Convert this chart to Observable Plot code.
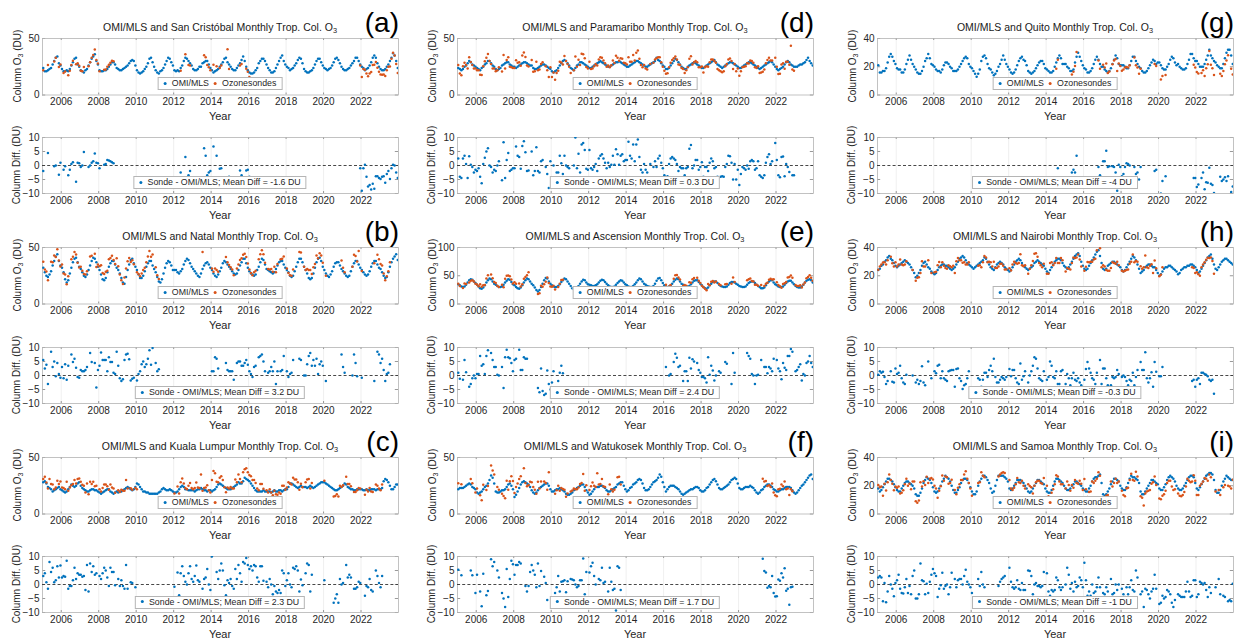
<!DOCTYPE html>
<html><head><meta charset="utf-8">
<script src="https://cdn.jsdelivr.net/npm/d3@7"></script>
<script src="https://cdn.jsdelivr.net/npm/@observablehq/plot@0.6"></script>
<style>
body{margin:0;background:#fff;}
#fig{position:relative;width:1244px;height:642px;overflow:hidden;font-family:"Liberation Sans",Arial,sans-serif;color:#262626;}
.t{position:absolute;white-space:nowrap;transform:translate(-50%,-50%);}
.title{font-size:10.5px;color:#1a1a1a;}
.title sub,.yl sub{font-size:70%;vertical-align:-2px;line-height:0;}
.letter{position:absolute;font-size:28px;color:#000;transform:translate(-100%,-50%);white-space:nowrap;}
.yl{font-size:10px;transform:translate(-50%,-50%) rotate(-90deg);}
.xl{font-size:11px;}
.leg{position:absolute;background:#fff;border:1px solid #b5b5b5;font-size:8.8px;height:11px;line-height:11px;padding:0 5px 0 5px;white-space:nowrap;transform:translateX(-50%);}
.dot{display:inline-block;width:3.2px;height:3.2px;border-radius:50%;margin:0 5px 1px 0;vertical-align:middle;}
</style></head><body><div id="fig"></div>
<script>
// ---------- data (monthly, Jan 2005 .. Dec 2023; one row per year; "_" = no sonde) ----------
const stations = ["San Cristóbal","Natal","Kuala Lumpur","Paramaribo","Ascension","Watukosek","Quito","Nairobi","Samoa"];
const letters = ["a","b","c","d","e","f","g","h","i"];
const meanDiffs = ["-1.6","3.2","2.3","0.3","2.4","1.7","-4","-0.3","-1"];
const yMaxTop = [50,50,50,50,100,50,40,40,40];
const yTicksTop = [[0,50],[0,50],[0,50],[0,50],[0,50,100],[0,50],[0,20,40],[0,20,40],[0,20,40]];
const yTicksDiff = [-10,-5,0,5,10];
const xTicks = [2006,2008,2010,2012,2014,2016,2018,2020,2022];
const firstYear = 2005;

const omiSanCristobal = `
24 21 21 22 23 24 27 30 33 34 28 26|23 21 21 22 21 23 26 29 32 33 27 25|22 21 20 22 23 26 29 32 34 36 30 27
22 21 21 22 22 23 25 27 29 29 27 24|23 22 22 23 24 25 26 28 30 31 30 26|22 20 19 20 21 23 25 28 32 33 29 25
22 20 19 21 22 24 27 30 33 32 29 26|22 21 22 21 24 26 30 33 32 30 28 26|23 22 22 23 25 25 28 29 30 30 27 24
22 20 21 22 23 25 27 29 32 33 29 27|25 23 22 22 24 26 28 31 34 30 25 22|20 19 19 20 22 24 28 30 32 32 30 27
24 22 20 20 21 24 27 30 33 35 30 27|25 24 22 23 24 26 28 31 33 32 28 23|21 20 20 21 22 24 27 30 32 32 29 26
24 23 22 23 24 26 29 32 33 31 28 25|23 22 22 23 24 26 28 30 33 33 30 27|25 24 22 23 24 26 29 33 35 33 28 25
23 22 22 23 25 27 30 33 37 35 30 24`;
const diffSanCristobal = `
-2 _ _ 4.5 _ _ _ -0.3 0 _ -3.3 1|_ -1.5 -0.3 _ -3.5 -1.5 0.5 1.2 _ -5.8 1 0.8|-0.5 0 4.8 _ _ -0.5 0 1 1.5 4.3 1 0.8
-1 _ _ 0.3 0.5 2 1.8 1.5 1.2 0.8 _ _|_ _ _ _ _ _ _ _ _ _ _ _|_ _ _ _ _ _ _ _ _ _ _ _
_ _ _ _ _ _ _ _ _ _ _ _|_ _ _ _ -2.5 _ _ 3 _ -3.5 -2 _|_ _ _ _ _ _ _ 6.2 3.5 -3.5 -2.5 -2
_ 6.8 _ 3.5 _ -1.2 -1 _ _ _ 11.5 -4|_ _ _ _ _ _ -1.8 -3.5 _ _ -1.8 -1.5|-4 _ _ _ _ _ _ _ _ _ _ _
_ _ _ _ _ _ _ _ _ _ _ _|_ _ _ _ _ _ _ _ _ _ _ _|_ _ _ _ _ _ _ _ _ _ _ _
_ _ _ _ _ _ _ _ _ _ _ _|_ _ _ _ _ _ _ _ _ _ _ -1|-9 -1 0.3 -4 -7.5 -7 -8.6 -6.5 -8.3 -3.8 -3.8 -4.5
-4.8 -4 -3.8 -6.2 -3 -2 -4.8 -1 0.3 0 -2.5 -4.5`;

const omiNatal = `
32 28 25 24 26 29 34 38 42 44 38 34|32 28 22 19 21 27 32 37 40 41 37 33|31 28 25 24 26 30 34 38 41 40 37 33
30 26 22 21 23 28 33 36 38 38 35 32|30 27 23 19 18 24 30 35 39 40 36 33|30 26 23 23 25 29 33 36 38 38 34 31
28 24 20 19 22 27 32 36 38 37 34 30|30 30 28 27 29 31 35 38 40 39 36 33|31 29 27 25 24 27 31 34 36 37 35 32
30 27 25 24 26 29 32 36 38 37 35 33|31 29 27 26 27 30 34 37 40 40 36 32|29 27 26 25 26 30 33 37 40 39 35 31
30 29 28 27 28 31 34 37 38 38 35 32|30 28 25 24 25 29 33 37 40 40 37 33|30 27 23 22 23 27 32 37 40 41 38 33
30 27 25 24 26 29 33 36 37 37 34 31|29 27 25 24 25 29 33 36 38 38 35 32|30 28 26 25 26 29 33 36 38 38 35 32
31 28 25 23 24 28 33 37 40 42 44 39`;
const diffNatal = `
5.5 2.5 3.8 -3 _ 8.5 3 5 -0.3 4.5 0.5 -0.8|3 -1 4 -1.5 3.5 _ 7.5 4.8 6 2.8 -0.5 -0.8|2 1.5 1.5 2 3 _ 8 4.8 _ 4.5 -4.3 2
3.5 8.2 5.5 5.5 5.5 1.5 6.5 4.8 4.8 1 0.5 8.5|3.5 -1 -2 -1.3 5.5 7.5 7.8 5.8 -1.8 -1.2 -0.8 _|-1.8 0.5 1.5 4 5 3 4 6 9 3.8 9.8 _
4.5 1.5 2.2 _ _ _ _ _ _ _ _ _|_ _ _ _ _ _ _ _ _ _ _ _|_ _ _ _ _ _ 15 _ _ _ _ _
1.5 1.5 6.5 6 2.5 _ _ _ _ 4.5 2 1.5|1.5 1.5 -1.5 _ 4.5 5 5 3.5 3.5 4.5 5.5 3.8|1.5 0.5 -0.5 3 3.5 _ 6.5 7 7.5 5 1.5 _
1 1.5 3 1.5 5 -3 1.5 _ 1.5 2 7 _|1.5 -0.5 0.5 1 5.5 _ _ _ 6 5.5 _ 0|0 4 7 8 3.5 5.5 3.5 6 0.5 4 5 3.5
_ -2 _ _ _ _ _ _ _ _ _ 7.5|3 1 _ _ _ _ 0 7.5 4.5 -0.3 12 _|-0.8 _ _ _ _ _ _ _ -2 _ 8.5 7.5
4.5 6 2 -2 0.5 1 4 _ _ _ _ _`;

const omiKualaLumpur = `
28 29 27 24 23 22 20 21 22 23 24 22|21 20 19 20 22 24 26 25 24 25 27 28|25 23 22 21 20 20 21 22 22 21 21 20
19 18 19 20 21 22 22 20 19 18 19 20|19 20 20 21 22 23 24 23 22 21 22 24|27 26 24 22 20 20 19 19 18 18 18 18
18 18 19 20 22 23 22 21 21 22 21 20|19 19 20 22 24 25 24 22 22 21 21 21|21 20 21 22 22 23 22 21 21 20 21 21
20 21 22 24 26 27 26 25 24 23 22 22|22 23 24 25 26 28 27 27 29 32 31 30|29 27 25 23 21 20 20 20 20 21 20 20
20 20 19 20 21 20 20 21 21 20 21 22|22 24 27 27 26 25 24 23 24 25 24 24|24 23 24 25 24 23 24 25 26 27 28 28
28 27 26 25 24 23 22 21 21 22 23 24|25 27 26 24 23 22 22 21 21 22 22 22|22 21 21 22 21 21 22 22 22 21 22 22
22 23 29 31 30 28 25 22 22 24 26 26`;
const diffKualaLumpur = `
3 4 0.8 -1.5 8 4.5 6 0.8 1.5 6.5 2.5 6.8|2.5 3 2.8 8.5 -1.5 -0.5 -0.5 1.5 6 2 4 3.5|3.5 2.8 3 -2 7 -2.5 7.5 4.5 6.5 3.5 4 _
3 2 4 6 5 2.5 -0.5 6 4.5 4.5 -0.3 _|2 -0.5 1.5 -0.5 -1.5 7 -1.5 _ 0.8 0.5 _ -1|-5 _ _ _ _ _ _ _ _ _ _ _
_ _ _ _ _ _ _ _ _ _ _ _|-0.8 _ 4.3 -3.8 4 6.5 3 1 0 4 6.5 2|1 3 6.8 1.5 1 12 -1.5 2 2.5 5.5 0 -2
10 17 14 4.5 2 5 7.5 5 -0.3 -3.8 1.5 0.5|2 -0.5 -1.5 5.5 2 7 4 1 8 7.5 9.5 7|5.5 6.5 5 7 6.5 2.5 1 6.5 6.5 1.3 _ 1
-1 2 0 -3.5 -0.5 -2.5 -3 -2 -3 5 4 -0.5|1.5 4 0 -1 6 5.5 6.5 5 -2.5 1.8 -0.3 _|4 7.5 7 -2.5 3.5 _ _ _ _ _ _ _
1.5 _ _ _ _ _ -6.5 -5 -3.5 -6.5 2 0|0.5 _ 7 2.5 3.5 2.5 _ -1.5 -1.5 -1 1 0.5|_ _ -4 -0.5 -1 2 -2 -2.5 _ 5 3 0.5
-1 3 _ _ _ _ _ _ _ _ _ _`;

const omiParamaribo = `
24 23 22 23 25 26 28 30 29 27 26 25|24 23 22 24 25 27 28 30 30 28 26 25|23 22 23 24 26 27 28 29 29 27 26 25
25 24 25 26 27 28 29 29 28 27 26 26|24 23 23 24 25 26 27 27 26 25 24 23|21 20 21 22 24 26 28 30 31 30 28 26
24 23 22 24 26 27 29 29 28 27 26 25|24 24 25 26 27 28 29 30 29 28 27 26|25 25 26 27 28 29 29 30 29 28 27 26
25 25 26 27 28 29 30 30 29 28 27 26|25 25 26 27 28 29 30 33 31 30 28 26|25 23 23 24 26 28 30 32 31 29 27 25
24 23 23 25 26 27 28 29 28 27 26 25|24 24 25 26 27 28 29 30 31 29 27 26|25 24 25 26 27 28 29 29 28 27 26 25
24 24 25 26 27 28 29 29 28 27 26 25|24 23 24 25 26 27 28 29 30 29 27 25|23 22 23 24 25 27 29 30 29 27 26 25
25 25 26 27 27 28 29 31 33 30 28 26`;
const diffParamaribo = `
2.5 -4 -4.5 2.5 3.5 0.5 -4.5 3.3 0.3 -0.5 -2.5 -1.5|-2 -1 -4 -6.3 0.5 2.8 5 6.2 0 -0.5 -2.5 -1.5|-2 0 1.5 _ -5.3 8.3 -4.5 2 4.5 -2 -1.5 -1
-1 6.8 3.5 3 -1.2 7 8.7 4.7 -2 -1.8 _ 5|-3.5 -2 6.5 -2 -2.5 1.5 2 _ -0.5 -3 -8 1.5|-5 0 -7.5 -2.5 -2.5 3.5 0.8 -3 3.5 0 -0.5 -1
-4.5 _ 0 10 -1 4.2 -2.5 7.5 8 5.5 -1.2 -1.5|5.5 -1 -1.5 -0.5 0.5 -2 2.5 3.5 4 2.5 1 -1|1 -0.5 0.3 3.5 0.3 5.8 4 0.3 3.5 4 1.5 2
2 8.5 3.5 2.5 7.5 1.5 7.5 9.3 3 -1.5 -2.5 0.5|-1.5 -2.5 _ 0.5 _ -0.5 1.5 -0.5 2.5 3.5 1 -1|-3.5 -4.2 -3.8 0.5 2.5 3 2.5 2 0.5 -2 -0.5 -1
-1 -3.5 -1 -0.5 6 7.3 -1 0 2 2 -1.5 -0.5|1.2 -4 -0.5 -0.5 -2 1 2.5 1.5 -1 -0.5 -4 -4.2|-4 -3.8 -4 -0.5 0.5 3.5 3.3 1 -5 0.5 -5 -1.5
-7 -3 -0.5 -1 -1.5 0 -1.2 1.5 2 1.5 -1.5 -1|1.5 -3.5 -4 -4.5 -3.5 1 3 4 0.5 1.5 _ 8|2 -3.5 -4.2 3 3.2 -3.8 0.5 -0.5 -2.3 16.5 -3.5 -3.5
_ _ _ _ _ _ _ _ _ _ _ _`;

const omiAscension = `
35 33 31 30 31 34 38 42 44 43 40 37|34 31 28 27 29 33 38 42 45 44 40 36|34 32 30 30 31 34 38 41 44 43 39 35
33 30 28 27 29 33 38 42 45 44 40 36|33 29 25 22 25 30 36 42 46 45 40 36|33 31 30 30 32 35 39 42 45 44 40 36
32 28 26 26 28 32 36 40 43 42 38 35|34 33 32 32 33 35 38 41 43 42 39 36|33 31 30 30 31 34 37 40 42 41 38 35
33 31 30 30 32 35 38 42 45 44 40 36|34 32 31 30 30 32 36 41 45 46 42 37|33 31 30 31 33 36 40 43 45 44 40 36
34 32 31 31 32 35 38 41 42 42 39 36|33 30 28 27 29 33 36 39 40 40 37 34|32 31 30 30 31 34 37 39 39 38 36 34
32 31 30 30 31 34 37 39 40 40 37 34|32 30 28 28 29 33 37 40 42 42 38 35|33 31 30 30 31 34 37 40 41 41 38 35
32 30 29 29 31 34 38 41 43 44 42 38`;
const diffAscension = `
1 -1.2 _ -1.5 5.5 1.2 _ -4 -3 -1 0 -1|0.5 0.5 7 3.5 4 0.5 7 9 _ 8 5.5 3|3 0.3 0 _ 3 -4.5 6.5 9.2 6.5 6.2 4.5 1.5
5.5 6 _ 9.2 2 2 6.5 6 6 12 _ _|_ _ _ -4.5 -6 2.5 -5.5 -7 -6.5 1.8 -3 -5|-2.5 1.5 -4.5 _ -2 1 3.5 0.8 _ _ _ _
_ _ _ _ _ _ _ _ _ _ _ _|_ _ _ _ _ _ _ _ _ _ _ _|_ _ _ _ _ _ _ _ _ _ _ _
_ _ _ _ _ _ _ _ _ _ _ _|_ _ _ _ _ _ _ _ _ _ _ _|_ 3 _ 0 0.5 _ 4.8 7.8 6.3 3 3.5 _
-2 1.5 1.5 -2 6.3 2.5 5.8 5 _ 4.5 2 1|-0.5 -0.5 -1 -2.5 6.5 0.3 3.5 1.8 -1.8 0 _ 1.5|1 _ _ 4.8 4.2 _ _ -3 8 1 _ _
_ _ _ _ _ 8 7 6 0.5 0 -3 0|0.3 _ 5.5 _ 3 3 0.8 3 2.5 1.5 6 _|5.5 2.5 1.5 -1.3 4.5 2.8 2 7 7 9.5 8.5 _
1.5 2 3 4 -1.8 0.5 0 4.5 5 7 4.5 3`;

const omiWatukosek = `
22 23 23 23 24 25 26 27 26 24 23 22|19 18 19 20 22 24 25 27 30 34 32 27|20 19 19 20 21 21 22 24 26 27 25 22
15 17 20 23 26 28 29 28 27 26 24 21|19 18 19 21 23 24 25 26 27 27 25 22|20 20 21 22 22 23 22 21 20 18 17 17
18 19 21 22 23 24 25 26 26 24 21 19|17 18 20 22 24 24 24 25 25 24 23 21|20 20 21 22 23 24 26 27 28 28 25 22
20 21 23 24 26 27 28 30 31 30 27 23|21 21 22 24 26 28 29 30 32 35 33 28|24 20 22 24 25 25 25 24 23 22 20 18
17 18 19 20 21 22 22 23 24 24 23 21|20 20 21 23 24 26 28 30 31 29 26 23|22 22 23 24 25 26 28 30 31 32 31 27
23 22 22 23 24 24 24 25 24 23 21 19|18 19 21 22 24 25 26 26 25 24 22 21|20 20 21 22 22 23 24 24 24 23 21 19
18 19 21 23 25 26 28 30 32 34 35 31`;
const diffWatukosek = `
5.3 _ 3.3 _ _ _ _ _ 5 3.3 _ -3|3.5 _ -2.5 -7.8 3.8 _ -3.8 -2.3 _ 9 6.5 8|_ 5 2.5 _ -3 -5 -8 5.5 -4.5 2 8.5 7.2
3.5 7 7 8 7.5 _ 11.5 -0.5 -2.5 -0.5 4.5 7|5 3.5 -1 7.5 -0.5 4.8 _ 2.8 0.5 -5.5 12 _|_ _ -3 -1 3 -2.5 1 1.2 1.5 -2.8 1.2 _
2 1.8 1.5 0 -1 -0.5 1.5 1.5 9.3 -3.5 4.5 _|4.3 6.5 7.8 3 0 12 2 1.5 6 0.5 1 _|-2.5 6 1 -2 -1.5 -9.3 6.5 6 -2 _ _ _
_ _ _ _ _ _ _ _ _ _ _ _|_ _ _ _ _ _ _ _ _ _ _ _|_ _ _ _ _ _ _ _ _ _ _ _
_ _ _ _ _ _ _ _ _ _ _ _|_ _ _ _ _ _ _ _ _ _ _ _|_ _ _ _ _ _ _ _ _ _ _ _
_ _ _ _ _ _ _ _ _ _ _ _|_ _ _ 9.2 4.8 4.3 -1.2 -0.5 -1 3 -3 -4.3|-4.2 1.8 1.3 4 2.5 5.8 -2.2 -1.5 -7.2 -1 -0.8 _
_ _ _ _ _ _ _ _ _ _ _ _`;

const omiQuito = `
21 16 16 17 17 19 23 27 29 27 24 22|19 18 18 16 16 18 22 25 28 25 22 20|18 16 15 15 17 20 24 26 29 26 22 21
20 18 17 17 16 18 21 23 23 22 20 19|17 17 17 18 20 22 24 26 27 26 22 20|19 17 15 13 15 18 24 27 28 26 22 19
18 16 14 15 17 20 22 25 28 25 22 20|18 16 15 16 18 21 24 26 27 25 24 21|17 16 15 16 17 19 21 23 24 24 22 19
18 17 16 16 17 20 23 26 28 26 22 22|22 20 19 17 17 18 23 27 30 27 24 21|19 18 16 16 17 19 22 25 27 25 22 20
20 18 17 16 17 19 22 25 28 26 22 21|21 21 20 19 19 21 24 27 27 24 22 20|19 17 16 16 17 19 21 23 25 24 22 23
23 21 19 18 18 20 22 25 27 26 23 21|22 20 19 18 18 19 22 25 29 29 26 24|24 22 20 20 20 22 25 28 32 28 26 24
23 21 20 19 19 22 26 30 32 32 28 22`;
const diffQuito = `
_ _ _ _ _ _ _ _ _ _ _ _|_ _ _ _ _ _ _ _ _ _ _ _|_ _ _ _ _ _ _ _ _ _ _ _
_ _ _ _ _ _ _ _ _ _ _ _|_ _ _ _ _ _ _ _ _ _ _ _|_ _ _ _ _ _ _ _ _ _ _ _
_ _ _ _ _ _ _ _ _ _ _ _|_ _ _ _ _ _ _ _ _ _ _ _|_ _ _ _ _ _ _ _ _ _ _ _
_ _ _ _ _ _ -4.5 -1 _ _ _ _|_ _ _ _ -2.5 -1.5 -2.5 3.5 _ _ _ _|_ _ _ _ _ _ _ _ _ -0.5 -3.5 _
1.5 1.5 5.3 -0.5 -0.3 _ -0.3 -0.5 -2.5 -9 0.3 -0.5|-3.8 -3 -0.5 0.8 0.5 0 _ _ -0.5 -3 -2.5 -5|-0.5 _ _ _ _ _ _ _ _ -2 -1.5 _
_ -10 -5.5 _ -3.8 _ _ _ _ _ _ _|_ _ _ _ _ _ _ _ _ _ -4.5 -4.5|-7.7 -6.8 _ -4.5 -2.5 -8.5 -6 -6.2 -0.8 -6.5 -7 -9.8
_ _ _ -4 -5.5 -5 -4.2 -5.5 -3.8 _ -9.5 -7.5`;

const omiNairobi = `
24 25 27 28 30 31 33 34 32 31 29 27|26 27 28 29 30 31 30 29 28 26 24 22|19 20 22 24 27 29 30 28 26 25 23 22
21 22 24 26 27 28 28 27 27 26 25 24|25 26 28 30 32 33 34 33 31 29 28 27|26 25 26 27 28 29 30 31 33 32 30 28
26 25 24 26 28 29 30 29 28 26 25 24|23 24 26 28 30 31 32 31 29 27 26 25|24 25 26 27 29 30 31 30 29 28 27 25
23 22 24 26 28 30 31 32 32 31 29 27|26 25 26 28 30 32 34 35 36 34 30 27|25 24 25 27 29 31 33 35 37 38 34 29
25 24 25 27 28 29 30 30 29 28 27 26|24 23 24 26 28 30 32 34 33 31 28 25|22 23 24 26 27 28 28 27 26 26 24 22
20 21 23 25 26 26 27 27 26 25 24 23|21 22 24 25 26 26 27 27 28 28 27 26|24 22 23 25 27 29 31 33 34 35 32 28
25 24 26 28 30 31 32 32 31 30 29 28`;
const diffNairobi = `
0.3 1.5 1 1.3 -0.5 -3 -2 _ 1.5 -2.2 -2.5 2.5|0.5 1 3.5 -1 -2.5 -3 0.3 _ _ _ 0 _|-2.5 -1.5 -3 -2 3.3 -2.5 -3.5 _ 5 _ -1 _
1.5 0.8 3.5 3.8 -1 1.5 -1 -1.5 -2 1.5 1.8 2|2 -4 2.3 2.5 -1 -2 -4.8 -3.5 -3 -1 1.5 _|_ _ _ _ -1 -1.5 -4 -1.5 1 1 -0.5 2
3.5 1.5 6 -0.5 -2.5 -2.5 -1.5 -0.5 -1 -1.5 -0.5 _|2.3 -0.3 2 2 -1 -2.5 -3 4.3 -1.5 -0.3 1.5 _|-2.5 0 1.5 3.5 6.5 6 2.5 -1 -1.5 -2 1.5 _
-1.5 -0.5 5 3.5 -0.5 -1 1.5 -3 -3 1.5 2 _|-3 0.5 -1 -3.5 -1 1 -1.5 -2 -1 -2.5 -3.5 _|-1.5 2.3 4.8 2.5 1 -1 -1.5 -3 1 _ 5.5 -3
2.5 2.5 -1 -3.5 -4.5 -3.5 -0.5 -1 -0.5 2 0.5 _|-0.5 0 -0.5 -2 -3.5 -1.5 -2 1 -3.5 -0.5 2 _|4.8 2 2 8.3 -1 -2.5 -1 1.2 -4 4.8 1.3 _
-0.3 -0.3 3 _ _ _ _ _ _ _ _ _|_ _ _ _ _ _ _ _ _ -2 -1.5 -4|-1.5 -1 -3 1 1 0.5 0.3 -0.3 -1.5 -2 -1.5 -6.5
_ _ _ _ _ _ _ _ _ _ _ _`;

const omiSamoa = `
18 16 17 19 21 23 25 25 24 23 21 19|17 16 16 18 20 22 23 23 22 21 20 18|14 13 13 15 18 22 24 26 25 24 22 19
16 15 16 18 20 23 25 27 26 25 23 20|17 15 15 17 19 22 24 25 25 24 22 19|16 14 14 16 20 23 25 27 27 26 24 22
18 15 16 20 24 27 27 27 27 26 25 23|18 17 18 20 22 24 24 24 23 22 20 18|16 15 16 18 20 22 24 24 23 22 21 18
16 15 15 17 20 23 25 25 24 23 22 20|18 17 17 18 20 21 23 23 22 21 20 18|17 16 16 18 20 23 25 26 26 27 28 22
14 13 14 16 18 21 23 25 25 24 23 20|18 17 17 19 22 25 27 26 26 25 24 22|16 14 14 16 18 20 22 24 24 23 22 21
18 17 17 19 21 24 26 27 26 25 23 20|18 17 17 18 20 22 24 26 27 27 26 22|18 17 19 21 23 25 27 28 29 29 28 24
17 15 15 17 20 23 25 27 26 25 24 24`;
const diffSamoa = `
2.5 3 2.5 -6 0.5 -6.3 -2.5 3 0 -1.5 -4.2 0.5|1.5 3.5 -1.5 -3 -3.2 -1 2 -3 -0.5 -3.5 3 5|-5 -5 -3.5 7.5 1.5 1.2 -3.5 0.3 -3 1 3.5 5.5
4 3 -4.5 -1.5 -0.3 4.2 -1.5 -0.5 0 -3.5 -1 4.2|_ 2 -1 1.5 2 2 0 3 5.3 1 0 -1|-3 _ _ _ 2 -0.5 4.5 0 -1 _ _ _
_ _ _ _ _ -0.5 1 2 2.5 3 _ _|6 1 -1 -1.5 -1 1.5 -1.5 -2 0.5 -2 -2 _|5 4.8 3 -3.5 0 0.5 -0.5 -0.5 -1 -0.5 4.5 _
4 -2.5 -4 -2 -2.5 -2 2.5 1.5 -1 -2 -1 _|0 6 3.5 -1.5 0.5 -2.5 1 -1 -0.5 2.5 1.5 -1|7.8 1.5 -4 -2.5 -4 0 -3 -2.5 -1 2.5 -1 _
-3 -3.5 -1 -2.5 _ 2 -3.5 -3 0 -2 0 _|-1.5 -3.5 -4.5 -1 -3.5 -1 1.5 -2 -2.5 5 2.5 _|-3.5 -2.5 -8 -1.5 -2 -3.5 -5 -2.5 -1.5 3.5 -1.5 _
-7 -6.5 -4 -5 -4.5 -2 -2.5 -3.5 -6.5 -8 -5.5 _|-3.5 -4 -4.5 -4.5 -4.5 -2.5 1 -2.5 -4.5 -4 1.5 1.5|-4.5 -3.5 1 0.5 0 0.5 -2 -4.5 -1 -3 _ _
-1 _ 2 -3.5 _ -4 -4.5 _ -6 -5.5 -6 0.3`;

const omiSeries = [omiSanCristobal, omiNatal, omiKualaLumpur, omiParamaribo, omiAscension, omiWatukosek, omiQuito, omiNairobi, omiSamoa];
const diffSeries = [diffSanCristobal, diffNatal, diffKualaLumpur, diffParamaribo, diffAscension, diffWatukosek, diffQuito, diffNairobi, diffSamoa];

// ---------- layout ----------
const BLUE = "#0072BD", ORANGE = "#D95319";
const colLeft = [42, 457, 877], frameW = 356;
const topY = [37.7, 246.7, 456.7], topH = 56.5;
const diffY = [136.7, 346.7, 556], diffH = 56;
const ML = 30, MR = 6, MT = 6, MB = 18;
const FONT = "'Liberation Sans', Arial, sans-serif";
const fig = document.getElementById("fig");

const parse = s => s.trim().split(/[\s|]+/).map(t => t === "_" ? null : +t);
const monthX = m => firstYear + (m + 0.5) / 12;

function put(el, left, top) {
  el.style.position = "absolute";
  el.style.left = left + "px";
  el.style.top = top + "px";
  fig.appendChild(el);
}
function html(cls, text, x, y) {
  const d = document.createElement("div");
  d.className = cls; d.innerHTML = text;
  d.style.left = x + "px"; d.style.top = y + "px";
  d.style.position = "absolute";
  fig.appendChild(d);
  return d;
}

function frameMarks(yDomain, yTicks) {
  return [
    Plot.ruleX(xTicks, {stroke: "#ebebeb", strokeWidth: 0.8}),
    Plot.ruleX(xTicks, {y1: yDomain[0], y2: yDomain[0] + (yDomain[1]-yDomain[0])*0.035, stroke: "#555", strokeWidth: 0.6}),
    Plot.ruleX(xTicks, {y1: yDomain[1], y2: yDomain[1] - (yDomain[1]-yDomain[0])*0.035, stroke: "#555", strokeWidth: 0.6}),
    Plot.ruleY(yTicks, {x1: 2005, x2: 2005.17, stroke: "#555", strokeWidth: 0.6}),
    Plot.ruleY(yTicks, {x1: 2024, x2: 2023.83, stroke: "#555", strokeWidth: 0.6})
  ];
}
function baseOpts(h, yDomain, yTicks) {
  return {
    width: frameW + ML + MR, height: h + MT + MB,
    marginLeft: ML, marginRight: MR, marginTop: MT, marginBottom: MB,
    style: {fontFamily: FONT, fontSize: "10px", color: "#262626", background: "transparent", overflow: "visible"},
    x: {domain: [2005, 2024], ticks: xTicks, tickFormat: d => String(d), tickSize: 0, tickPadding: 3, label: null},
    y: {domain: yDomain, ticks: yTicks, tickSize: 0, tickPadding: 3, label: null}
  };
}

stations.forEach((name, i) => {
  const col = Math.floor(i / 3), row = i % 3;
  const fx = colLeft[col], cx = fx + frameW / 2;
  const omiVals = parse(omiSeries[i]).slice(0, 228);
  const diffVals = parse(diffSeries[i]).slice(0, 228);
  const omi = omiVals.map((v, m) => ({x: monthX(m), y: v})).filter(d => d.y != null);
  const diff = diffVals.map((v, m) => ({x: monthX(m), y: v})).filter(d => d.y != null);
  // ozonesonde column = OMI/MLS + (Sonde - OMI/MLS)
  const sonde = diffVals.map((v, m) => (v == null || omiVals[m] == null) ? null : {x: monthX(m), y: omiVals[m] + v}).filter(d => d);

  const yDom = [0, yMaxTop[i]];
  const top = Plot.plot({
    ...baseOpts(topH, yDom, yTicksTop[i]),
    marks: [
      ...frameMarks(yDom, yTicksTop[i]),
      Plot.frame({stroke: "#b3b3b3", strokeWidth: 0.8}),
      Plot.dot(omi, {x: "x", y: "y", r: 1.25, fill: BLUE, stroke: null, clip: true}),
      Plot.dot(sonde, {x: "x", y: "y", r: 1.25, fill: ORANGE, stroke: null, clip: true})
    ]
  });
  put(top, fx - ML, topY[row] - MT);

  const dDom = [-10, 10];
  const bot = Plot.plot({
    ...baseOpts(diffH, dDom, yTicksDiff),
    marks: [
      ...frameMarks(dDom, yTicksDiff),
      Plot.frame({stroke: "#b3b3b3", strokeWidth: 0.8}),
      Plot.ruleY([0], {stroke: "#333", strokeWidth: 0.9, strokeDasharray: "3,2.2"}),
      Plot.dot(diff, {x: "x", y: "y", r: 1.25, fill: BLUE, stroke: null, clip: true})
    ]
  });
  put(bot, fx - ML, diffY[row] - MT);

  // texts
  html("t title", `OMI/MLS and ${name} Monthly Trop. Col. O<sub>3</sub>`, cx, topY[row] - 11);
  html("letter", `(${letters[i]})`, fx + frameW + 1, topY[row] - 15);
  html("t yl", "Column O<sub>3</sub> (DU)", fx - 25, topY[row] + topH / 2);
  html("t yl", "Column Diff. (DU)", fx - 26, diffY[row] + diffH / 2);
  html("t xl", "Year", cx, topY[row] + topH + 22);
  html("t xl", "Year", cx, diffY[row] + diffH + 22);

  html("leg", `<span class="dot" style="background:${BLUE}"></span>OMI/MLS&nbsp;&nbsp;<span class="dot" style="background:${ORANGE}"></span>Ozonesondes`, cx, topY[row] + topH - 17);
  html("leg", `<span class="dot" style="background:${BLUE}"></span>Sonde - OMI/MLS; Mean Diff = ${meanDiffs[i]} DU`, cx, diffY[row] + diffH - 16.5);
});
</script>
</body></html>
